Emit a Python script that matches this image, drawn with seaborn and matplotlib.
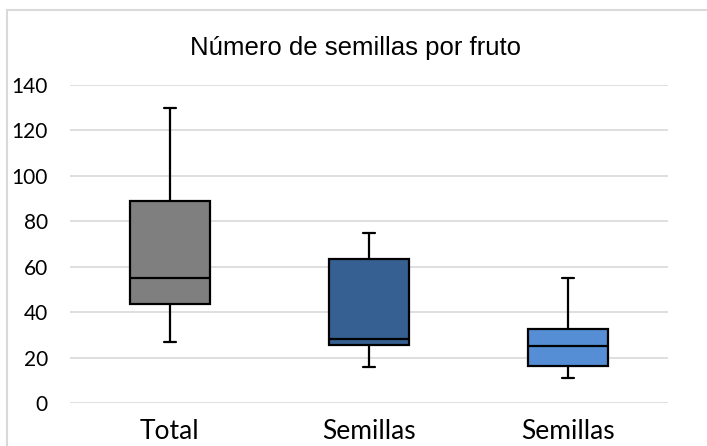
import matplotlib
matplotlib.use("Agg")
import matplotlib.pyplot as plt
from matplotlib.lines import Line2D
import seaborn as sns
import pandas as pd

# Five-number summaries (min, Q1, median, Q3, max) for each group
group_labels = ["Total", "Semillas", "Semillas"]
total_summary = [27, 43.5, 55, 89, 130]
semillas_a_summary = [16, 25.5, 28.5, 63.6, 75]
semillas_b_summary = [11, 16.3, 25.3, 32.5, 55]
box_colors = ["#7F7F7F", "#376092", "#558ED5"]
y_ticks = [0, 20, 40, 60, 80, 100, 120, 140]

summaries = [total_summary, semillas_a_summary, semillas_b_summary]
rows = []
for gi, values in enumerate(summaries):
    for v in values:
        rows.append({"grupo": gi, "semillas": v})
df = pd.DataFrame(rows)

sns.set_style("white")
fig = plt.figure(figsize=(7.07, 4.46), dpi=100)
W, H = 707, 446
ax = fig.add_axes([70 / W, (H - 403.3) / H, (668 - 70) / W, (403.3 - 85) / H])

sns.boxplot(
    data=df, x="grupo", y="semillas", hue="grupo",
    palette=box_colors, saturation=1, legend=False, whis=(0, 100),
    width=0.4, linecolor="black", linewidth=1.6,
    capwidths=0.06, ax=ax,
)

ax.set_ylim(0, 140)
ax.set_xlim(-0.5, 2.5)
ax.set_yticks(y_ticks)
ax.set_xticks(range(len(group_labels)))
ax.set_xticklabels(group_labels, fontfamily="Lato", fontsize=19)
for lbl in ax.get_yticklabels():
    lbl.set_fontfamily("Lato")
    lbl.set_fontsize(15)
ax.tick_params(axis="y", length=0, pad=16, colors="black")
ax.tick_params(axis="x", length=0, pad=11, colors="black")
ax.set_xlabel("")
ax.set_ylabel("")
ax.yaxis.grid(True, color="#D9D9D9", linewidth=1.2)
ax.set_axisbelow(True)
for s in ax.spines.values():
    s.set_visible(False)

fig.text(356 / W, 1 - 48 / H, "Número de semillas por fruto",
         ha="center", va="center", fontsize=18.5,
         fontfamily="Liberation Sans", color="black")

# Light chart-area frame along the top and left edges
frame_kw = dict(color="#D9D9D9", linewidth=1.5, transform=None)
fig.add_artist(Line2D([7, 707], [H - 10, H - 10], **frame_kw))
fig.add_artist(Line2D([7, 7], [0, H - 10], **frame_kw))

fig.savefig("out.png", dpi=100)
